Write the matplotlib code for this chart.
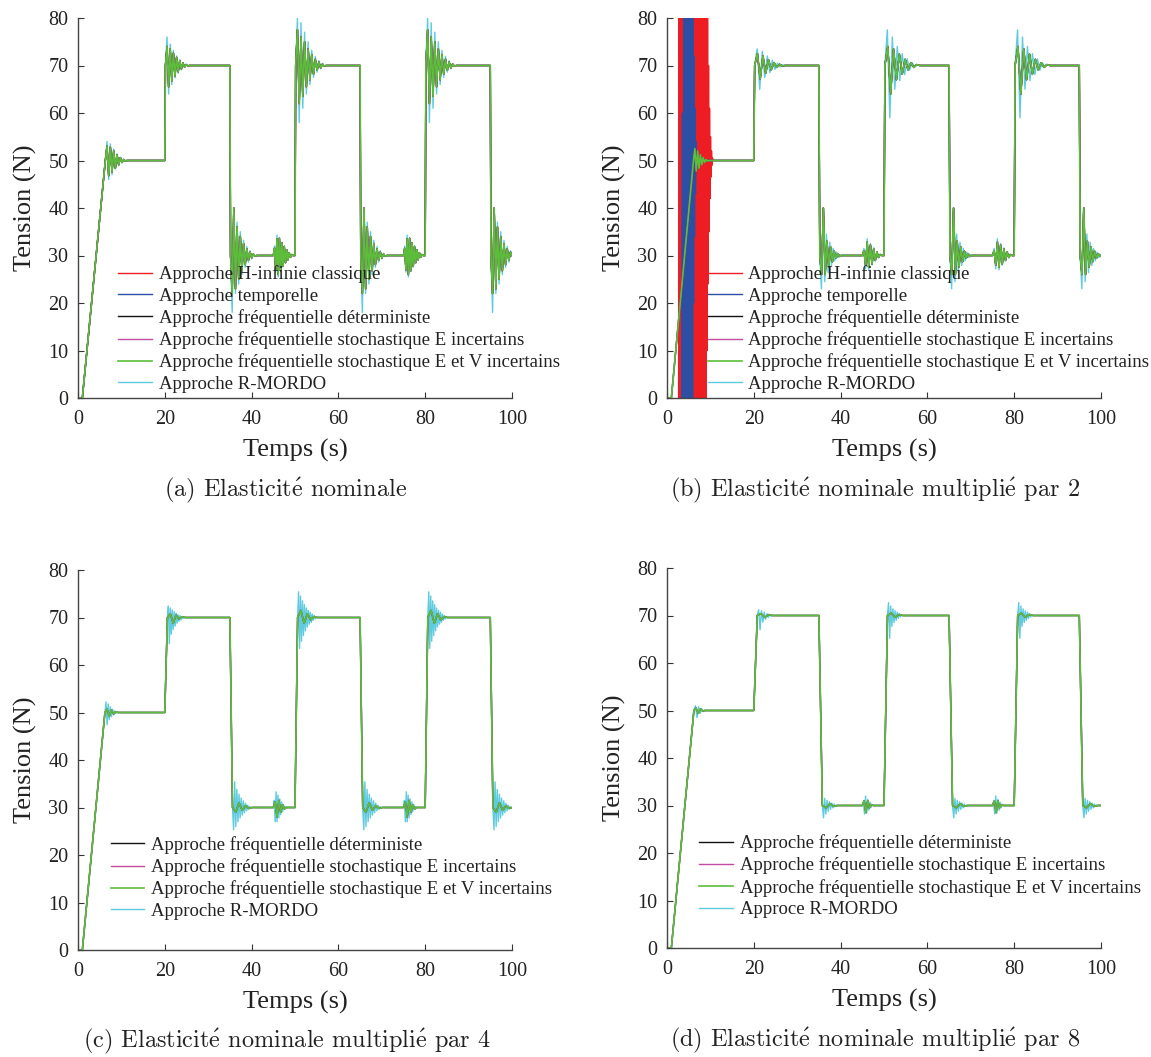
import numpy as np
import matplotlib.pyplot as plt

plt.rcParams['font.family'] = 'Liberation Serif'
plt.rcParams['mathtext.fontset'] = 'cm'

# set-point profile (s, N)
RAMP_START = 1.0
EVENT_T = [20, 35, 45, 50, 65, 75, 80, 95]
EVENT_LEVEL = [70, 30, 30, 70, 30, 30, 70, 30]
EVENT_KIND = ['up20', 'down40', 'dist', 'up40', 'down40', 'dist', 'up40', 'down40']
T_END = 100

# successive peak deviations after each event (N)
# positive = overshoot in the step direction (above for disturbances)
A_GREEN_RAMP = [3.0, -3.2, 2.8, -2.4, 2.0, -1.6, 1.2, -0.9, 0.6, -0.4, 0.2, -0.1]
A_GREEN_UP20 = [4.0, -4.5, 3.5, -3.2, 2.6, -2.2, 1.7, -1.3, 1.0, -0.7, 0.5, -0.3, 0.2, -0.1]
A_GREEN_DOWN40 = [8.0, -10.0, 7.0, -6.0, 5.0, -4.0, 3.2, -2.5, 1.9, -1.4, 1.0, -0.7, 0.5, -0.3, 0.15]
A_GREEN_DIST = [1.5, -3.0, 3.5, -4.0, 3.6, -3.2, 2.7, -2.3, 1.9, -1.5, 1.2, -0.9, 0.6, -0.4, 0.2]
A_GREEN_UP40 = [7.5, -8.0, 6.0, -6.5, 5.0, -4.5, 3.5, -3.0, 2.3, -1.8, 1.3, -1.0, 0.7, -0.5, 0.3, -0.15]
A_CYAN_RAMP = [4.0, -4.0, 3.5, -3.0, 2.4, -1.8, 1.4, -1.0, 0.7, -0.5, 0.3, -0.15]
A_CYAN_UP20 = [6.0, -6.0, 4.5, -4.0, 3.2, -2.6, 2.0, -1.6, 1.2, -0.9, 0.6, -0.4, 0.25, -0.1]
A_CYAN_DOWN40 = [12.0, -10.0, 8.0, -7.0, 6.0, -5.0, 4.0, -3.2, 2.5, -1.9, 1.4, -1.0, 0.7, -0.4, 0.2]
A_CYAN_DIST = [2.0, -3.5, 4.3, -4.5, 3.8, -3.3, 2.8, -2.4, 2.0, -1.6, 1.2, -0.9, 0.6, -0.4, 0.2]
A_CYAN_UP40 = [10.0, -12.0, 9.0, -9.0, 7.0, -6.0, 5.0, -4.0, 3.2, -2.5, 1.9, -1.4, 1.0, -0.7, 0.4, -0.2]

B_GREEN_RAMP = [2.5, -2.2, 2.0, -1.6, 1.2, -0.9, 0.6, -0.4, 0.2, -0.1]
B_GREEN_UP20 = [2.5, -2.8, 2.0, -1.6, 1.2, -0.9, 0.6, -0.4, 0.25, -0.1]
B_GREEN_DOWN40 = [4.0, -10.0, 4.0, -3.0, 2.4, -1.8, 1.3, -0.9, 0.6, -0.4, 0.2]
B_GREEN_DIST = [1.0, -2.0, 2.8, -2.5, 2.2, -1.8, 1.4, -1.0, 0.7, -0.4, 0.2]
B_GREEN_UP40 = [4.0, -6.0, 3.5, -3.0, 2.4, -1.8, 1.3, -0.9, 0.6, -0.4, 0.2]
B_CYAN_RAMP = [2.0, -2.0, 1.6, -1.3, 1.0, -0.7, 0.5, -0.3, 0.15]
B_CYAN_UP20 = [3.5, -5.0, 3.0, -2.5, 2.0, -1.5, 1.1, -0.8, 0.5, -0.3, 0.15]
B_CYAN_DOWN40 = [7.0, -10.0, 5.5, -4.5, 3.6, -2.8, 2.1, -1.5, 1.1, -0.7, 0.4, -0.2]
B_CYAN_DIST = [1.5, -2.8, 3.5, -3.0, 2.5, -2.0, 1.6, -1.2, 0.8, -0.5, 0.25]
B_CYAN_UP40 = [7.5, -11.0, 6.0, -5.0, 4.0, -3.2, 2.5, -1.9, 1.4, -1.0, 0.6, -0.3, 0.15]
# unstable start of the H-infinity and time-domain controllers in (b)
RED_B_SWING = [-90, 170, -100, 180, -110, 185, -115, 190, -120, 190, -120, 190, -115, 185,
               -110, 180, -105, 175, -100, 165, -90, 160, -80, 150, -70, 140, -60, 130,
               -50, 125, -40, 120, -30]
RED_B_SETTLE = [45, -40, 32, -26, 20, -15, 11, -8, 5, -3.5, 2, -1, 0.5]
BLUE_B_SWING = [-50, 60, -80, 110, -100, 150, -100, 170, -100, 170, -90, 160, -70, 140, -40]
BLUE_B_SETTLE = [35, -30, 22, -16, 11, -7, 4, -2, 1]
RED_B_SPAN = (2.6, 9.0)
BLUE_B_SPAN = (3.3, 5.9)

C_GREEN_RAMP = [0.7, -0.8, 0.5, -0.3, 0.15]
C_GREEN_UP20 = [0.8, -1.2, 0.5, -0.3, 0.15]
C_GREEN_DOWN40 = [1.0, -1.0, 0.6, -0.4, 0.2]
C_GREEN_DIST = [1.2, -2.0, 1.5, -1.0, 0.6, -0.3]
C_GREEN_UP40 = [1.5, -1.2, 0.8, -0.5, 0.2]
C_CYAN_RAMP = [2.2, -2.6, 1.8, -1.5, 1.2, -0.9, 0.7, -0.5, 0.35, -0.2, 0.1]
C_CYAN_UP20 = [2.4, -5.5, 2.0, -3.5, 1.6, -2.5, 1.2, -1.8, 0.9, -1.2, 0.6, -0.8, 0.4, -0.5, 0.2, -0.25, 0.1]
C_CYAN_DOWN40 = [4.7, -5.4, 4.0, -3.8, 3.0, -2.8, 2.2, -2.0, 1.6, -1.4, 1.1, -0.9, 0.7, -0.5, 0.35, -0.2, 0.1]
C_CYAN_DIST = [1.5, -3.0, 3.3, -3.0, 2.6, -2.2, 1.8, -1.5, 1.2, -0.9, 0.6, -0.4, 0.2]
C_CYAN_UP40 = [5.4, -6.5, 4.5, -5.0, 3.5, -3.8, 2.7, -2.8, 2.0, -2.0, 1.5, -1.4, 1.1, -1.0, 0.7, -0.6, 0.4, -0.3, 0.15]

D_GREEN_RAMP = [0.5, -0.6, 0.3, -0.1]
D_GREEN_UP20 = [0.4, -0.4, 0.2]
D_GREEN_DOWN40 = [0.5, -0.4, 0.2]
D_GREEN_DIST = [1.0, -1.5, 1.0, -0.5, 0.2]
D_GREEN_UP40 = [0.5, -0.4, 0.2]
D_CYAN_RAMP = [1.0, -1.5, 0.8, -0.6, 0.4, -0.2]
D_CYAN_UP20 = [1.2, -3.0, 1.0, -1.4, 0.7, -0.8, 0.4, -0.4, 0.2, -0.15]
D_CYAN_DOWN40 = [2.6, -1.5, 1.8, -1.1, 1.2, -0.8, 0.8, -0.5, 0.5, -0.3, 0.2, -0.1]
D_CYAN_DIST = [0.8, -1.8, 2.0, -1.6, 1.3, -1.0, 0.7, -0.4, 0.2]
D_CYAN_UP40 = [2.7, -4.8, 2.0, -2.3, 1.4, -1.5, 1.0, -1.0, 0.7, -0.6, 0.4, -0.3, 0.15]

# how long each burst lasts (s), rise time of the steps (s), end of ramp (s)
A_BURST = {'ramp': 5.0, 'up20': 5.5, 'down40': 6.0, 'dist': 4.5, 'up40': 7.0}
B_BURST = {'ramp': 3.5, 'up20': 7.0, 'down40': 5.0, 'dist': 4.5, 'up40': 8.0}
C_BURST = {'ramp': 3.0, 'up20': 4.0, 'down40': 4.5, 'dist': 3.0, 'up40': 4.5}
D_BURST = {'ramp': 2.5, 'up20': 3.5, 'down40': 3.5, 'dist': 2.5, 'up40': 3.5}
RISE = {'a': 0.15, 'b': 0.2, 'c': 0.6, 'd': 0.8}
RAMP_END = {'a': 6.3, 'b': 6.1, 'c': 6.2, 'd': 6.2}

LABELS = ['Approche H-infinie classique', 'Approche temporelle',
          'Approche fréquentielle déterministe',
          'Approche fréquentielle stochastique E incertains',
          'Approche fréquentielle stochastique E et V incertains',
          'Approche R-MORDO']
LABEL_D_CYAN = 'Approce R-MORDO'
E_ACUTE = r'$\acute{\rm e}$'
CAPTIONS = ['(a) Elasticit{} nominale', '(b) Elasticit{} nominale multipli{} par 2',
            '(c) Elasticit{} nominale multipli{} par 4', '(d) Elasticit{} nominale multipli{} par 8']

RED = '#ee1d23'
BLUE = '#2c4fa3'
BLACK = '#111111'
MAGENTA = '#c24ca2'
GREEN = '#5cbd3a'
CYAN = '#5ecbe0'


def kinds(ramp, up20, down40, dist, up40):
    return {'ramp': ramp, 'up20': up20, 'down40': down40, 'dist': dist, 'up40': up40}


def add_burst(t, y, t0, level, sign, devs, dur):
    times = np.linspace(t0, t0 + dur, len(devs) + 2)[1:]
    for ti, d in zip(times[:-1], devs):
        t.append(ti)
        y.append(level + sign * d)
    t.append(times[-1])
    y.append(level)


def build(devs, burst, rise, ramp_end, head=None):
    if head is None:
        t = [0.0, RAMP_START, ramp_end]
        y = [0.0, 0.0, 50.0]
        add_burst(t, y, ramp_end, 50, 1, devs['ramp'], burst['ramp'])
    else:
        t, y = head
    prev = 50
    for te, lev, kind in zip(EVENT_T, EVENT_LEVEL, EVENT_KIND):
        t.append(te)
        y.append(prev)
        if kind == 'dist':
            add_burst(t, y, te, lev, 1, devs[kind], burst[kind])
        else:
            s = 1 if lev > prev else -1
            t.append(te + rise)
            y.append(lev)
            add_burst(t, y, te + rise, lev, s, devs[kind], burst[kind])
        prev = lev
    t = np.array(t)
    y = np.array(y)
    keep = t < T_END
    return np.append(t[keep], T_END), np.append(y[keep], prev)


def unstable_head(swing, span, settle, settle_len):
    t = [0.0, RAMP_START] + list(np.linspace(span[0], span[1], len(swing)))
    y = [0.0, 0.0] + list(swing)
    add_burst(t, y, span[1], 50, 1, settle, settle_len)
    return t, y


a_green = kinds(A_GREEN_RAMP, A_GREEN_UP20, A_GREEN_DOWN40, A_GREEN_DIST, A_GREEN_UP40)
a_cyan = kinds(A_CYAN_RAMP, A_CYAN_UP20, A_CYAN_DOWN40, A_CYAN_DIST, A_CYAN_UP40)
b_green = kinds(B_GREEN_RAMP, B_GREEN_UP20, B_GREEN_DOWN40, B_GREEN_DIST, B_GREEN_UP40)
b_cyan = kinds(B_CYAN_RAMP, B_CYAN_UP20, B_CYAN_DOWN40, B_CYAN_DIST, B_CYAN_UP40)
c_green = kinds(C_GREEN_RAMP, C_GREEN_UP20, C_GREEN_DOWN40, C_GREEN_DIST, C_GREEN_UP40)
c_cyan = kinds(C_CYAN_RAMP, C_CYAN_UP20, C_CYAN_DOWN40, C_CYAN_DIST, C_CYAN_UP40)
d_green = kinds(D_GREEN_RAMP, D_GREEN_UP20, D_GREEN_DOWN40, D_GREEN_DIST, D_GREEN_UP40)
d_cyan = kinds(D_CYAN_RAMP, D_CYAN_UP20, D_CYAN_DOWN40, D_CYAN_DIST, D_CYAN_UP40)

fig = plt.figure(figsize=(11.51, 10.57), dpi=100)
W, H = 1151.0, 1057.0
boxes = {'a': (78, 398), 'b': (667, 398), 'c': (78, 950), 'd': (667, 948)}
leg_pos = {'a': (0.092, 0.349), 'b': (0.094, 0.349), 'c': (0.075, 0.300), 'd': (0.0735, 0.299)}
cap_pos = {'a': (286, 490), 'b': (875, 490), 'c': (287, 1041), 'd': (875, 1040)}

panels = {
    'a': (a_green, a_cyan, A_BURST),
    'b': (b_green, b_cyan, B_BURST),
    'c': (c_green, c_cyan, C_BURST),
    'd': (d_green, d_cyan, D_BURST),
}

for i, key in enumerate('abcd'):
    green, cyan, burst = panels[key]
    x0, y0 = boxes[key]
    ax = fig.add_axes([x0 / W, 1 - y0 / H, 434 / W, 380 / H])
    rise, rend = RISE[key], RAMP_END[key]

    tc, yc = build(cyan, burst, rise, rend)
    tg, yg = build(green, burst, rise, rend)
    lc, = ax.plot(tc, yc, color=CYAN, lw=1.0)
    handles = []
    if key in 'ab':
        if key == 'b':
            tr, yr = build(green, burst, rise, rend,
                           head=unstable_head(RED_B_SWING, RED_B_SPAN, RED_B_SETTLE, 1.6))
            tb, yb = build(green, burst, rise, rend,
                           head=unstable_head(BLUE_B_SWING, BLUE_B_SPAN, BLUE_B_SETTLE, 1.1))
        else:
            tr, yr, tb, yb = tg, yg, tg, yg
        lr, = ax.plot(tr, yr, color=RED, lw=1.0)
        lb, = ax.plot(tb, yb, color=BLUE, lw=1.0)
        handles += [lr, lb]
    lk, = ax.plot(tg, yg, color=BLACK, lw=1.0)
    lm, = ax.plot(tg, yg, color=MAGENTA, lw=1.0)
    lg, = ax.plot(tg, yg, color=GREEN, lw=1.2)
    handles += [lk, lm, lg, lc]
    labels = LABELS[:] if key in 'ab' else LABELS[2:]
    if key == 'd':
        labels[-1] = LABEL_D_CYAN

    ax.set_xlim(0, 100)
    ax.set_ylim(0, 80)
    ax.set_xticks([0, 20, 40, 60, 80, 100])
    ax.set_yticks(range(0, 81, 10))
    for s in ['top', 'right']:
        ax.spines[s].set_visible(False)
    for s in ['left', 'bottom']:
        ax.spines[s].set_color('#444444')
        ax.spines[s].set_linewidth(1.0)
    ax.tick_params(direction='in', length=4, width=0.8, color='#333333',
                   labelsize=14.5, labelcolor='#222222')
    ax.tick_params(axis='x', pad=9)
    ax.tick_params(axis='y', pad=7)
    ax.set_xlabel('Temps (s)', fontsize=19, color='#222222', labelpad=7)
    ax.set_ylabel('Tension (N)', fontsize=19, color='#222222', labelpad=8)

    ax.legend(handles, labels, loc='upper left', bbox_to_anchor=leg_pos[key],
              frameon=False, fontsize=13.5, borderpad=0, borderaxespad=0,
              handlelength=1.8, handletextpad=0.37, labelspacing=0.23,
              labelcolor='#222222')

    cx, cy = cap_pos[key]
    fig.text(cx / W, 1 - cy / H, CAPTIONS[i].format(E_ACUTE, E_ACUTE), ha='center',
             va='center', fontsize=17.5, color='#222222', family='cmr10')

fig.savefig('out.png', dpi=100)
